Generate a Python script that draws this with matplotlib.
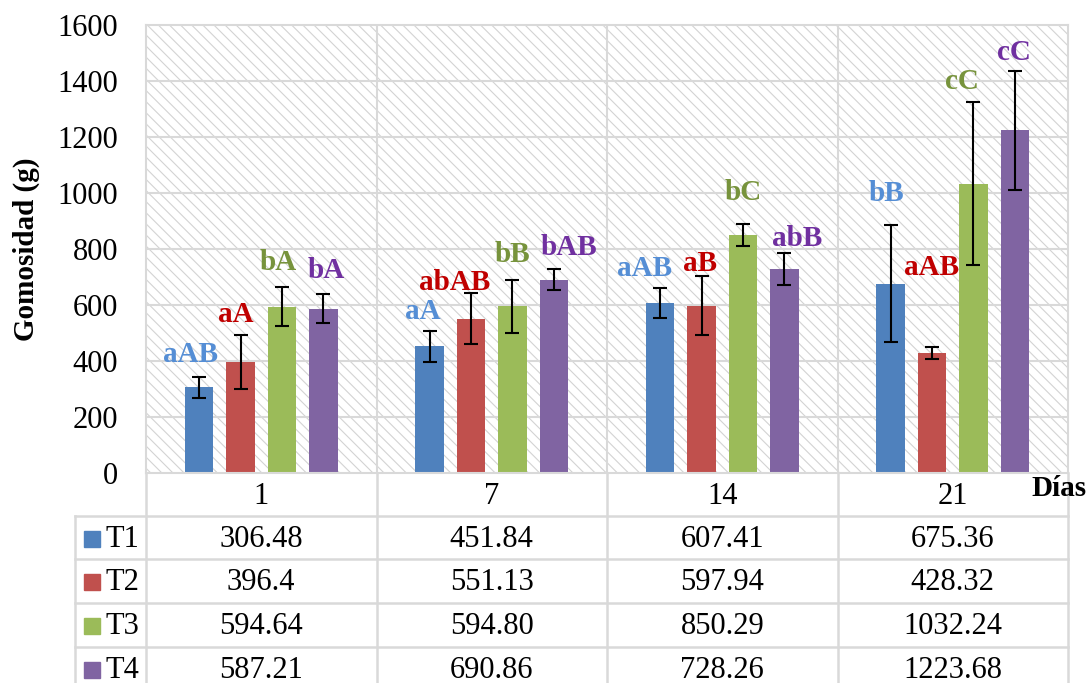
import matplotlib.pyplot as plt
from matplotlib.patches import Rectangle
import numpy as np

plt.rcParams['font.family'] = ['Liberation Serif', 'DejaVu Serif']
plt.rcParams['hatch.linewidth'] = 0.8

# data (as printed in the data table)
dias = ['1', '7', '14', '21']
series = ['T1', 'T2', 'T3', 'T4']
t1_txt = ['306.48', '451.84', '607.41', '675.36']
t2_txt = ['396.4', '551.13', '597.94', '428.32']
t3_txt = ['594.64', '594.80', '850.29', '1032.24']
t4_txt = ['587.21', '690.86', '728.26', '1223.68']

# error bars
t1_err = [37, 54, 54, 209]
t2_err = [98, 91, 104, 21]
t3_err = [68, 94, 40, 291]
t4_err = [52, 38, 56, 213]

# significance letters
t1_lab = ['aAB', 'aA', 'aAB', 'bB']
t2_lab = ['aA', 'abAB', 'aB', 'aAB']
t3_lab = ['bA', 'bB', 'bC', 'cC']
t4_lab = ['bA', 'bAB', 'abB', 'cC']

txts = [t1_txt, t2_txt, t3_txt, t4_txt]
errs = [t1_err, t2_err, t3_err, t4_err]
labs = [t1_lab, t2_lab, t3_lab, t4_lab]

bar_colors = ['#4F81BD', '#C0504D', '#9BBB59', '#8064A2']
lab_colors = ['#558ED5', '#C00000', '#77933C', '#7030A0']
grid_c = '#D9D9D9'

# label offsets in pixels (dx, gap above error bar)
lab_off = [
    [(-9, 15), (-7, 12), (-16, 12), (-4, 24)],
    [(-5, 13), (-16, 3), (-2, 5), (-1, 72)],
    [(-4, 17), (0, 18), (0, 24), (-12, 13)],
    [(3, 16), (15, 14), (13, 7), (-1, 11)],
]

W, H = 1088, 683
fig = plt.figure(figsize=(W / 100, H / 100), dpi=100)
x0, x1, ytop, ybot = 146, 1068, 25, 473
ax = fig.add_axes([x0 / W, 1 - ybot / H, (x1 - x0) / W, (ybot - ytop) / H])

# hatched plot area
ax.add_patch(Rectangle((0, 0), 1, 1, transform=ax.transAxes, facecolor='white',
                       edgecolor='#D3D3D3', hatch='\\\\\\', lw=0, zorder=0))

x = np.arange(len(dias))
bw = 0.125
pitch = 0.18
for i in range(4):
    vals = [float(s) for s in txts[i]]
    xs = x + (i - 1.5) * pitch
    ax.bar(xs, vals, bw, color=bar_colors[i], zorder=2)
    ax.errorbar(xs, vals, yerr=errs[i], fmt='none', ecolor='black',
                elinewidth=1.5, capsize=5, capthick=1.5, zorder=3)
    for j in range(4):
        dx, dy = lab_off[i][j]
        ax.annotate(labs[i][j], xy=(xs[j], vals[j] + errs[i][j]),
                    xytext=(dx, dy), textcoords='offset pixels',
                    ha='center', va='baseline', fontsize=21, fontweight='bold',
                    color=lab_colors[i], zorder=4)

ax.set_xlim(-0.5, 3.5)
ax.set_ylim(0, 1600)
ax.set_yticks(range(0, 1601, 200))
ax.set_xticks([])
ax.tick_params(axis='y', length=0, pad=20, labelsize=22)
for v in range(200, 1600, 200):
    ax.axhline(v, color=grid_c, lw=1.5, zorder=1)
for v in [0.5, 1.5, 2.5]:
    ax.axvline(v, color=grid_c, lw=1.5, zorder=1)
for s in ax.spines.values():
    s.set_color(grid_c)
    s.set_linewidth(1.5)
fig.text(26 / W, 1 - 249 / H, 'Gomosidad (g)', rotation=90, ha='center',
         va='center', fontsize=21, fontweight='bold')

# data table drawn underneath in pixel coords
tab = fig.add_axes([0, 0, 1, 1])
tab.set_xlim(0, W)
tab.set_ylim(H, 0)
tab.axis('off')
tab.patch.set_alpha(0)
colw = (x1 - x0) / 4
col_edges = [x0 + colw * k for k in range(5)]
rows = [473, 516, 559, 603, 647, 690]
tleft = 75
for xe in col_edges:
    tab.plot([xe, xe], [rows[0], H], color=grid_c, lw=1.8)
tab.plot([tleft, tleft], [rows[1], H], color=grid_c, lw=1.8)
for yr in rows[1:]:
    tab.plot([tleft, x1], [yr, yr], color=grid_c, lw=1.8)
for k, d in enumerate(dias):
    tab.text(x0 + colw * (k + 0.5), (rows[0] + rows[1]) / 2 + 2, d,
             ha='center', va='center', fontsize=22)
for i in range(4):
    yc = (rows[i + 1] + rows[i + 2]) / 2 + 2
    tab.add_patch(Rectangle((84, yc - 9), 16, 16, color=bar_colors[i]))
    tab.text(105, yc, series[i], ha='left', va='center', fontsize=22)
    for k in range(4):
        tab.text(x0 + colw * (k + 0.5), yc, txts[i][k], ha='center',
                 va='center', fontsize=22)
tab.text(1031, 489, 'Días', ha='left', va='center', fontsize=21,
         fontweight='bold')

fig.savefig('out.png', dpi=100)
